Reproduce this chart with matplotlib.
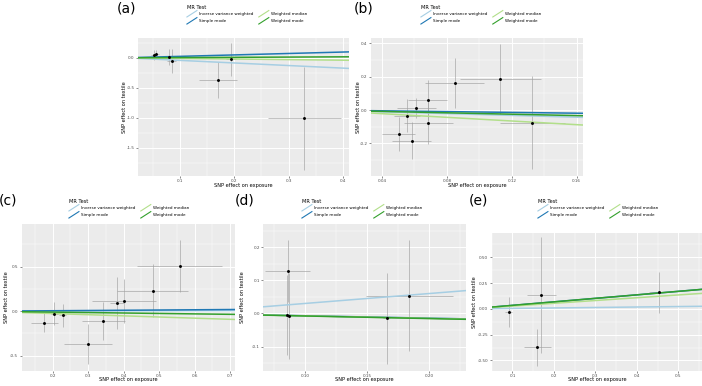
import matplotlib
matplotlib.use("Agg")
import matplotlib.pyplot as plt
from matplotlib.lines import Line2D
from matplotlib.legend_handler import HandlerBase
from matplotlib.ticker import AutoMinorLocator, FixedLocator

# ---------------- data ----------------
methods = ["Inverse variance weighted", "Simple mode", "Weighted median", "Weighted mode"]
method_colors = ["#a6cee3", "#1f78b4", "#b2df8a", "#33a02c"]

a_x = [0.052, 0.057, 0.080, 0.085, 0.170, 0.194, 0.329]
a_y = [0.045, 0.057, 0.017, -0.055, -0.37, -0.027, -1.01]
a_xerr = [0.005, 0.005, 0.008, 0.008, 0.035, 0.010, 0.067]
a_yerr = [0.08, 0.07, 0.13, 0.20, 0.30, 0.27, 0.86]
a_slopes = [-0.43, 0.24, -0.10, 0.04]
a_xticks = [0.1, 0.2, 0.3, 0.4]
a_xticklabels = ["0.1", "0.2", "0.3", "0.4"]
a_yticks = [-1.5, -1.0, -0.5, 0.0]
a_yticklabels = ["-1.5", "-1.0", "-0.5", "0.0"]

b_x = [0.0611, 0.0554, 0.0502, 0.0582, 0.0681, 0.0685, 0.0847, 0.113, 0.1327]
b_y = [0.010, -0.034, -0.144, -0.184, 0.060, -0.076, 0.160, 0.184, -0.076]
b_xerr = [0.012, 0.008, 0.010, 0.012, 0.012, 0.015, 0.018, 0.025, 0.020]
b_yerr = [0.06, 0.10, 0.10, 0.11, 0.12, 0.13, 0.15, 0.21, 0.28]
b_slopes = [-0.27, -0.12, -0.55, -0.21]
b_xticks = [0.04, 0.08, 0.12, 0.16]
b_xticklabels = ["0.04", "0.08", "0.12", "0.16"]
b_yticks = [-0.2, 0.0, 0.2, 0.4]
b_yticklabels = ["-0.2", "0.0", "0.2", "0.4"]

c_x = [0.177, 0.205, 0.228, 0.300, 0.343, 0.381, 0.401, 0.482, 0.558]
c_y = [-0.127, -0.026, -0.045, -0.37, -0.109, 0.090, 0.116, 0.232, 0.509]
c_xerr = [0.038, 0.010, 0.010, 0.068, 0.060, 0.020, 0.090, 0.100, 0.120]
c_yerr = [0.11, 0.13, 0.13, 0.225, 0.215, 0.29, 0.25, 0.30, 0.29]
c_slopes = [0.01, 0.027, -0.13, -0.05]
c_xticks = [0.2, 0.3, 0.4, 0.5, 0.6, 0.7]
c_xticklabels = ["0.2", "0.3", "0.4", "0.5", "0.6", "0.7"]
c_yticks = [-0.5, 0.0, 0.5]
c_yticklabels = ["-0.5", "0.0", "0.5"]

d_x = [0.0861, 0.0855, 0.0871, 0.1657, 0.1839]
d_y = [0.128, -0.005, -0.008, -0.015, 0.053]
d_xerr = [0.018, 0.002, 0.002, 0.003, 0.035]
d_yerr = [0.095, 0.12, 0.13, 0.138, 0.168]
d_slopes = [0.30, -0.072, -0.075, -0.078]
d_xticks = [0.10, 0.15, 0.20]
d_xticklabels = ["0.10", "0.15", "0.20"]
d_yticks = [-0.1, 0.0, 0.1, 0.2]
d_yticklabels = ["-0.1", "0.0", "0.1", "0.2"]

e_x = [0.091, 0.170, 0.160, 0.454]
e_y = [-0.029, 0.136, -0.372, 0.159]
e_xerr = [0.008, 0.035, 0.032, 0.025]
e_yerr = [0.146, 0.56, 0.18, 0.20]
e_slopes = [0.045, 0.34, 0.27, 0.34]
e_xticks = [0.1, 0.2, 0.3, 0.4, 0.5]
e_xticklabels = ["0.1", "0.2", "0.3", "0.4", "0.5"]
e_yticks = [-0.50, -0.25, 0.00, 0.25, 0.50]
e_yticklabels = ["-0.50", "-0.25", "0.00", "0.25", "0.50"]

panel_labels = ["(a)", "(b)", "(c)", "(d)", "(e)"]

# ---------------- layout (pixels) ----------------
W, H = 702, 386
fig = plt.figure(figsize=(W / 100, H / 100), dpi=100)
fig.patch.set_facecolor("white")


class DiagHandler(HandlerBase):
    def create_artists(self, legend, orig_handle, xdescent, ydescent,
                       width, height, fontsize, trans):
        ln = Line2D([-xdescent, -xdescent + width], [-ydescent, -ydescent + height],
                    color=orig_handle.get_color(), lw=orig_handle.get_linewidth(),
                    transform=trans)
        return [ln]


def px_axes(l, r, t, b):
    return fig.add_axes([l / W, 1 - b / H, (r - l) / W, (b - t) / H])


panels = [
    dict(x=a_x, y=a_y, xe=a_xerr, ye=a_yerr, s=a_slopes, xt=a_xticks, xtl=a_xticklabels,
         yt=a_yticks, ytl=a_yticklabels, box=(138, 349, 38, 176), xlim=(0.023, 0.411),
         ylim=(-1.97, 0.33), title=(127, 9), leg=(184, 2), ylab=124, xlab=186),
    dict(x=b_x, y=b_y, xe=b_xerr, ye=b_yerr, s=b_slopes, xt=b_xticks, xtl=b_xticklabels,
         yt=b_yticks, ytl=b_yticklabels, box=(371, 583, 37.5, 176), xlim=(0.0332, 0.1639),
         ylim=(-0.396, 0.435), title=(364, 9), leg=(418, 2), ylab=358, xlab=186),
    dict(x=c_x, y=c_y, xe=c_xerr, ye=c_yerr, s=c_slopes, xt=c_xticks, xtl=c_xticklabels,
         yt=c_yticks, ytl=c_yticklabels, box=(21.7, 235, 224.3, 370.7), xlim=(0.113, 0.714),
         ylim=(-0.668, 0.976), title=(8, 201), leg=(66, 196), ylab=7, xlab=380),
    dict(x=d_x, y=d_y, xe=d_xerr, ye=d_yerr, s=d_slopes, xt=d_xticks, xtl=d_xticklabels,
         yt=d_yticks, ytl=d_yticklabels, box=(263.3, 466, 224.3, 370.7), xlim=(0.0665, 0.2295),
         ylim=(-0.173, 0.269), title=(245, 201), leg=(299, 196), ylab=242, xlab=380),
    dict(x=e_x, y=e_y, xe=e_xerr, ye=e_yerr, s=e_slopes, xt=e_xticks, xtl=e_xticklabels,
         yt=e_yticks, ytl=e_yticklabels, box=(491.7, 702, 232.7, 370.7), xlim=(0.050, 0.557),
         ylim=(-0.60, 0.739), title=(478, 201), leg=(535, 196), ylab=474, xlab=380),
]

for i, p in enumerate(panels):
    l, r, t, b = p["box"]
    ax = px_axes(l, r, t, b)
    ax.set_facecolor("#EBEBEB")
    for sp in ax.spines.values():
        sp.set_visible(False)
    ax.set_xlim(*p["xlim"])
    ax.set_ylim(*p["ylim"])
    ax.xaxis.set_major_locator(FixedLocator(p["xt"]))
    ax.yaxis.set_major_locator(FixedLocator(p["yt"]))
    ax.set_xticklabels(p["xtl"])
    ax.set_yticklabels(p["ytl"])
    ax.xaxis.set_minor_locator(AutoMinorLocator(2))
    ax.yaxis.set_minor_locator(AutoMinorLocator(2))
    ax.grid(True, which="major", color="white", lw=0.7, zorder=0)
    ax.grid(True, which="minor", color="white", lw=0.35, zorder=0)
    ax.set_axisbelow(True)
    ax.tick_params(which="major", length=1.5, width=0.4, color="#333333",
                   labelsize=3, labelcolor="#4D4D4D", pad=1)
    ax.tick_params(which="minor", length=0)

    ax.errorbar(p["x"], p["y"], xerr=p["xe"], yerr=p["ye"], fmt="none",
                ecolor="#a0a0a0", elinewidth=0.45, capsize=0, zorder=2)
    ax.scatter(p["x"], p["y"], s=4.5, color="black", zorder=4, linewidths=0)
    handles = []
    for m, col, sl in zip(methods, method_colors, p["s"]):
        ax.axline((0, 0), slope=sl, color=col, lw=1.1, zorder=3)
        handles.append(Line2D([0], [0], color=col, lw=0.8, label=m))

    # axis labels
    cx = (l + r) / 2
    fig.text(cx / W, 1 - p["xlab"] / H, "SNP effect on exposure", ha="center",
             va="center", fontsize=3.6, color="black")
    fig.text(p["ylab"] / W, 1 - ((t + b) / 2) / H, "SNP effect on textile", ha="center",
             va="center", rotation=90, fontsize=3.6, color="black")

    # panel title
    fig.text(p["title"][0] / W, 1 - p["title"][1] / H, panel_labels[i], ha="center",
             va="center", fontsize=10, color="black")

    # legend
    lx, ly = p["leg"]
    ax.legend(handles=handles, loc="upper left",
              bbox_to_anchor=(lx / W, 1 - ly / H), bbox_transform=fig.transFigure,
              ncol=2, frameon=False, fontsize=3, title="MR Test", title_fontsize=3.6,
              handlelength=2.4, handleheight=2.0, handletextpad=0.6,
              labelspacing=0.15, columnspacing=1.2, borderpad=0.2,
              alignment="left", handler_map={Line2D: DiagHandler()})

fig.savefig("out.png", dpi=100, facecolor="white")
